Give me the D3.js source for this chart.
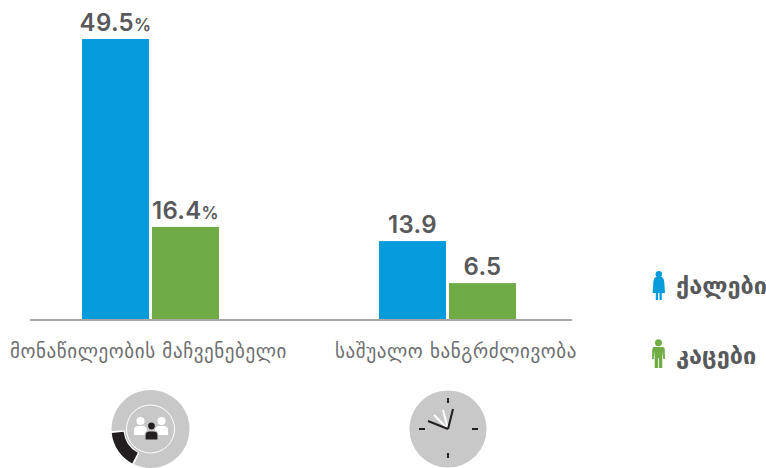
<!DOCTYPE html>
<html>
<head>
<meta charset="utf-8">
<script src="https://cdn.jsdelivr.net/npm/d3@7"></script>
<style>
  html, body { margin: 0; padding: 0; background: #fff; }
  svg { display: block; }
</style>
</head>
<body>
<div id="chart"></div>
<script>
const categories = ['მონაწილეობის მაჩვენებელი', 'საშუალო ხანგრძლივობა'];
const seriesNames = ['ქალები', 'კაცები'];
const women = [49.5, 13.9];
const men = [16.4, 6.5];
const units = ['%', ''];

const colors = ['#069cdc', '#6fac46'];
const textColor = '#58595b';
const iconGrey = '#c8c8c9';

const width = 766, height = 468;
const baseline = 320;

const svg = d3.select('#chart')
  .append('svg')
  .attr('width', width)
  .attr('height', height);

const x0 = d3.scaleBand().domain(categories).range([2, 596]);
const x1 = d3.scaleBand().domain(seriesNames).range([0, 137]).paddingInner(3 / 70);
const y = d3.scaleLinear().domain([0, 49.5]).range([baseline, 39]);

const series = [women, men];

const groups = svg.selectAll('g.group')
  .data(categories)
  .join('g')
  .attr('class', 'group')
  .attr('transform', d => `translate(${x0(d) + x0.bandwidth() / 2 - 68.5},0)`);

groups.each(function(cat, i) {
  const g = d3.select(this);
  seriesNames.forEach((name, s) => {
    const v = series[s][i];
    g.append('rect')
      .attr('x', x1(name))
      .attr('y', y(v))
      .attr('width', x1.bandwidth())
      .attr('height', baseline - y(v))
      .attr('fill', colors[s]);

    const label = g.append('text')
      .attr('x', x1(name) + x1.bandwidth() / 2)
      .attr('y', y(v) - 8)
      .attr('text-anchor', 'middle')
      .attr('fill', textColor)
      .attr('font-family', 'Inter, sans-serif')
      .attr('font-weight', 600)
      .attr('font-size', '24px')
      .attr('letter-spacing', '0.3px')
      .text(v);
    if (units[i]) {
      label.append('tspan')
        .attr('font-size', '17px')
        .text(units[i]);
    }
  });
});

svg.append('line')
  .attr('x1', 30)
  .attr('x2', 572)
  .attr('y1', baseline)
  .attr('y2', baseline)
  .attr('stroke', '#a7a7a7')
  .attr('stroke-width', 2);

// category labels
const labelX = [148.5, 456];
svg.selectAll('text.cat')
  .data(categories)
  .join('text')
  .attr('class', 'cat')
  .attr('x', (d, i) => labelX[i])
  .attr('y', 358)
  .attr('text-anchor', 'middle')
  .attr('fill', '#6d6e70')
  .attr('font-family', '"DejaVu Sans", sans-serif')
  .attr('font-size', '19px')
  .attr('letter-spacing', '0.6px')
  .text(d => d);

// legend
const legendY = [294, 364];
svg.selectAll('text.legend')
  .data(seriesNames)
  .join('text')
  .attr('class', 'legend')
  .attr('x', 676)
  .attr('y', (d, i) => legendY[i])
  .attr('fill', textColor)
  .attr('font-family', '"DejaVu Sans", sans-serif')
  .attr('font-weight', 700)
  .attr('font-size', '23.5px')
  .text(d => d);

// woman
const woman = svg.append('g').attr('transform', 'translate(658.8,271)').attr('fill', colors[0]);
woman.append('circle').attr('cy', 3.3).attr('r', 3.2);
woman.append('path').attr('d', 'M-3,6 L3,6 Q5,7 5.5,11 L6.2,22 L3,22 L3,29 L0.7,29 L0.7,22 L-0.7,22 L-0.7,29 L-3,29 L-3,22 L-6.2,22 L-5.5,11 Q-5,7 -3,6 Z');

// man
const man = svg.append('g').attr('transform', 'translate(658.5,339)').attr('fill', colors[1]);
man.append('circle').attr('cy', 3.7).attr('r', 3.5);
man.append('path').attr('d', 'M-4,8 L4,8 Q6,8 6.2,10 L6.5,20 L4.8,20 L3.8,12 L3.8,29 L0.4,29 L0.4,19 L-0.4,19 L-0.4,29 L-3.8,29 L-3.8,12 L-4.8,20 L-6.5,20 L-6.2,10 Q-6,8 -4,8 Z');

// participation icon
const part = svg.append('g').attr('transform', 'translate(150.5,429)');
const deg = a => a * Math.PI / 180;
const arc = d3.arc();
part.append('path')
  .attr('d', arc({ innerRadius: 0, outerRadius: 39, startAngle: deg(-93), endAngle: deg(205) }))
  .attr('fill', iconGrey);
part.append('path')
  .attr('d', arc({ innerRadius: 0, outerRadius: 26, startAngle: 0, endAngle: 2 * Math.PI }))
  .attr('fill', iconGrey);
part.append('path')
  .attr('d', arc({ innerRadius: 27, outerRadius: 39, startAngle: deg(208), endAngle: deg(264) }))
  .attr('fill', '#231f20');
part.append('circle').attr('r', 24).attr('fill', 'none').attr('stroke', '#fff').attr('stroke-width', 1);

function person(g, cx, cy, color, outlined) {
  const p = g.append('g').attr('transform', `translate(${cx},${cy})`).attr('fill', color);
  p.append('circle').attr('cy', -6).attr('r', 4);
  p.append('path').attr('d', 'M-6.5,8 L-6.5,3 Q-6.5,-1 -2,-1 L2,-1 Q6.5,-1 6.5,3 L6.5,8 Z');
  if (outlined) p.attr('stroke', iconGrey).attr('stroke-width', 1.2);
}
person(part, -10, -2, '#fff');
person(part, 11, -2, '#fff');
person(part, 1, 3, '#231f20', true);

// clock icon
const clock = svg.append('g').attr('transform', 'translate(448,429)');
clock.append('circle').attr('r', 38.6).attr('fill', iconGrey);
const ticks = [[0, -31, 0, -26], [0, 24, 0, 29], [-29, 0, -23, 0], [24, 0, 30, 0]];
clock.selectAll('line.tick')
  .data(ticks)
  .join('line')
  .attr('class', 'tick')
  .attr('x1', d => d[0]).attr('y1', d => d[1])
  .attr('x2', d => d[2]).attr('y2', d => d[3])
  .attr('stroke', '#231f20')
  .attr('stroke-width', 2);
const hands = [
  [-5, -19, '#fff'], [-14, -14, '#fff'],
  [5, -20, '#231f20'], [-20, -8, '#231f20']
];
clock.selectAll('line.hand')
  .data(hands)
  .join('line')
  .attr('class', 'hand')
  .attr('x1', 0).attr('y1', 0)
  .attr('x2', d => d[0]).attr('y2', d => d[1])
  .attr('stroke', d => d[2])
  .attr('stroke-width', 2);
</script>
</body>
</html>
